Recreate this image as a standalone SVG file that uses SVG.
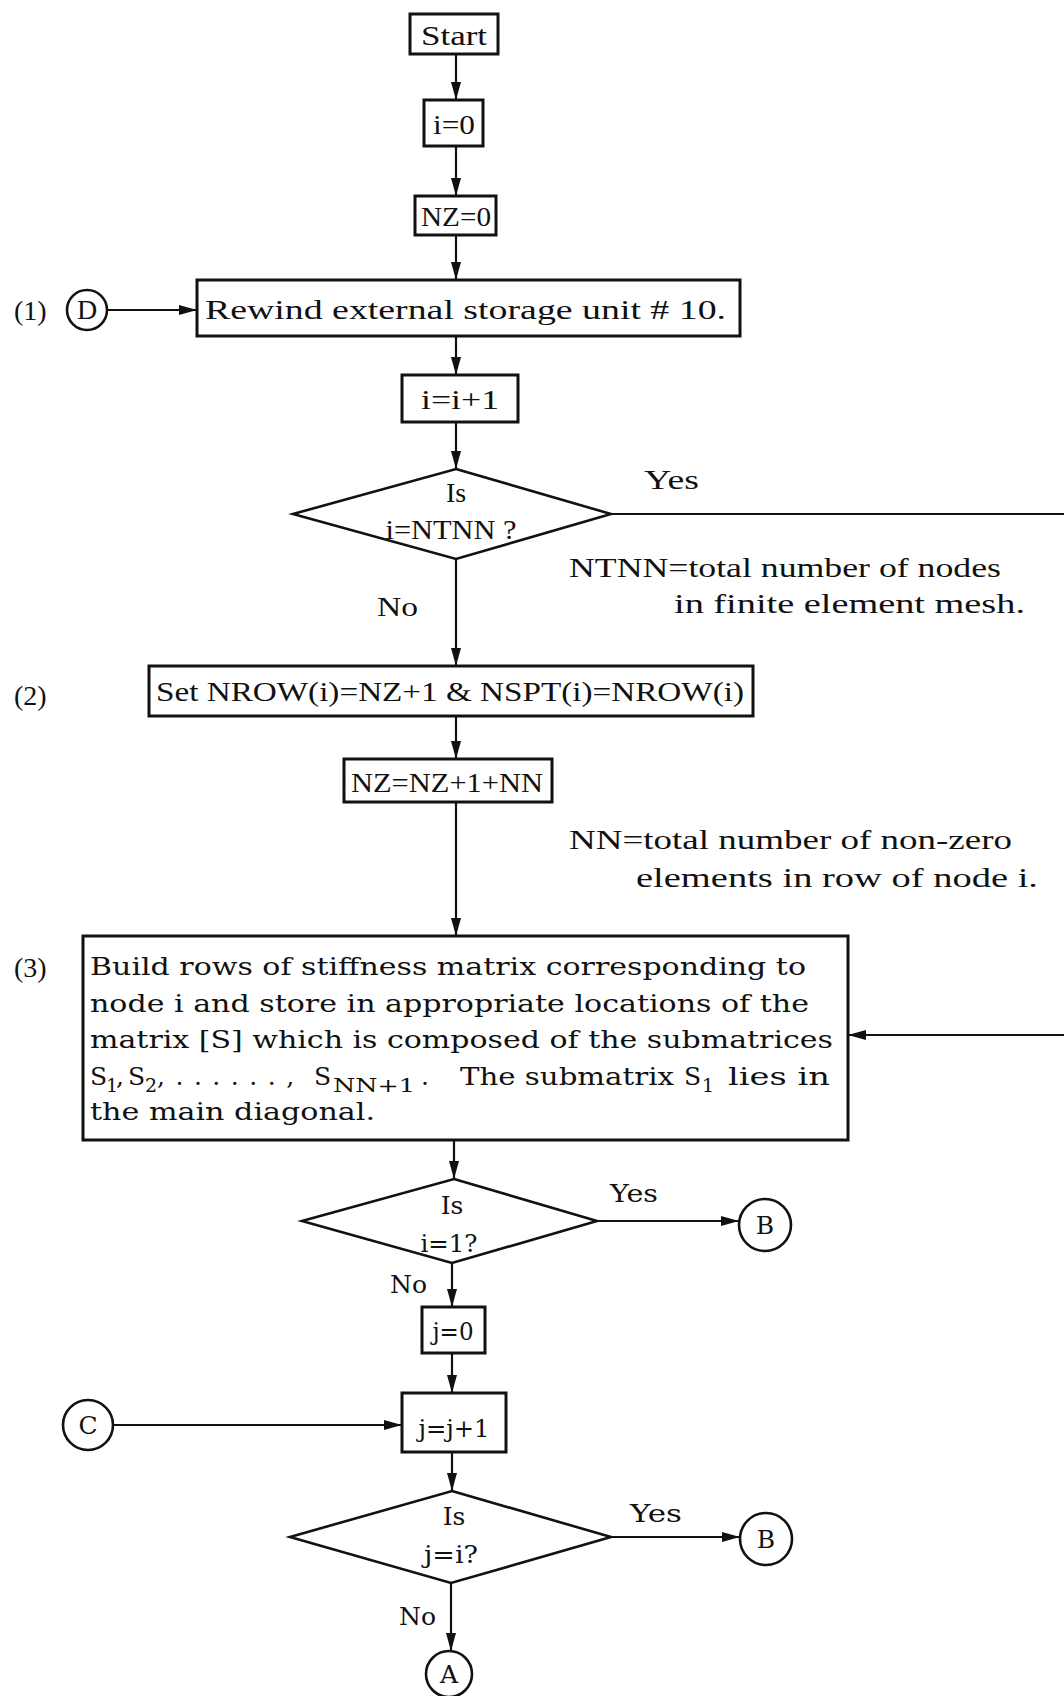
<svg xmlns="http://www.w3.org/2000/svg" width="1064" height="1696" viewBox="0 0 1064 1696">
<style>
.box{fill:none;stroke:#111;stroke-width:3}
.dia{fill:none;stroke:#111;stroke-width:2.6;stroke-linejoin:miter}
.circ{fill:none;stroke:#111;stroke-width:2.6}
.con{fill:none;stroke:#111;stroke-width:2.2}
.arr{marker-end:url(#ah)}
text{font-family:"Liberation Serif","DejaVu Serif",serif;fill:#111;font-size:28px}
.w{font-family:"DejaVu Serif","Liberation Serif",serif;font-size:25px}
.m{text-anchor:middle}
.sub{font-size:19px}
</style>
<defs>
<marker id="ah" markerUnits="userSpaceOnUse" markerWidth="18" markerHeight="10" refX="18" refY="5" orient="auto">
<path d="M0,0 L18,5 L0,10 z" fill="#111"/>
</marker>
</defs>
<rect width="1064" height="1696" fill="#fff"/>

<g id="connectors">
<line class="con arr" x1="456" y1="54" x2="456" y2="100"/>
<line class="con arr" x1="456" y1="146" x2="456" y2="196"/>
<line class="con arr" x1="456" y1="235" x2="456" y2="280"/>
<line class="con arr" x1="107" y1="310" x2="197" y2="310"/>
<line class="con arr" x1="456" y1="336" x2="456" y2="375"/>
<line class="con arr" x1="456" y1="422" x2="456" y2="469"/>
<line class="con" x1="611" y1="514" x2="1064" y2="514"/>
<line class="con arr" x1="456" y1="559" x2="456" y2="666"/>
<line class="con arr" x1="456" y1="716" x2="456" y2="759"/>
<line class="con arr" x1="456" y1="802" x2="456" y2="936"/>
<line class="con arr" x1="1064" y1="1035" x2="848" y2="1035"/>
<line class="con arr" x1="454" y1="1140" x2="454" y2="1179"/>
<line class="con arr" x1="597" y1="1221" x2="739" y2="1221"/>
<line class="con arr" x1="452" y1="1263" x2="452" y2="1307"/>
<line class="con arr" x1="452" y1="1353" x2="452" y2="1393"/>
<line class="con arr" x1="113" y1="1425" x2="402" y2="1425"/>
<line class="con arr" x1="452" y1="1452" x2="452" y2="1491"/>
<line class="con arr" x1="611" y1="1537" x2="740" y2="1537"/>
<line class="con arr" x1="451" y1="1583" x2="451" y2="1651"/>
</g>

<g id="start">
<rect class="box" x="410" y="14" width="88" height="40"/>
<text class="m" x="454" y="45" font-size="29" textLength="66" lengthAdjust="spacingAndGlyphs">Start</text>
</g>
<g id="i0">
<rect class="box" x="424" y="100" width="59" height="46"/>
<text class="m" x="454" y="134" textLength="42" lengthAdjust="spacingAndGlyphs">i=0</text>
</g>
<g id="nz0">
<rect class="box" x="415" y="196" width="81" height="39"/>
<text class="m" x="456" y="226" textLength="70" lengthAdjust="spacingAndGlyphs">NZ=0</text>
</g>
<g id="label1"><text x="14" y="320" font-size="26">(1)</text></g>
<g id="connD">
<circle class="circ" cx="87" cy="310" r="20"/>
<text class="m" x="87" y="319" font-size="25">D</text>
</g>
<g id="rewind">
<rect class="box" x="197" y="280" width="543" height="56"/>
<text x="205" y="319" font-size="29" textLength="521" lengthAdjust="spacingAndGlyphs">Rewind external storage unit # 10.</text>
</g>
<g id="iinc">
<rect class="box" x="402" y="375" width="116" height="47"/>
<text class="m" x="460" y="409" textLength="78" lengthAdjust="spacingAndGlyphs">i=i+1</text>
</g>
<g id="dec1">
<polygon class="dia" points="456,469 611,514 456,559 293,514"/>
<text class="m" x="456" y="502" font-size="29">Is</text>
<text class="m" x="451" y="539" textLength="131" lengthAdjust="spacingAndGlyphs">i=NTNN ?</text>
<text x="644" y="489" textLength="55" lengthAdjust="spacingAndGlyphs">Yes</text>
<text x="377" y="616" textLength="41" lengthAdjust="spacingAndGlyphs">No</text>
</g>
<g id="note1">
<text x="569" y="577" textLength="432" lengthAdjust="spacingAndGlyphs">NTNN=total number of nodes</text>
<text x="674" y="613" textLength="351" lengthAdjust="spacingAndGlyphs">in finite element mesh.</text>
</g>
<g id="label2"><text x="14" y="705" font-size="26">(2)</text></g>
<g id="setrow">
<rect class="box" x="149" y="666" width="604" height="50"/>
<text x="156" y="701" font-size="29" textLength="588" lengthAdjust="spacingAndGlyphs">Set NROW(i)=NZ+1 &amp; NSPT(i)=NROW(i)</text>
</g>
<g id="nzinc">
<rect class="box" x="344" y="759" width="208" height="43"/>
<text x="351" y="792" textLength="192" lengthAdjust="spacingAndGlyphs">NZ=NZ+1+NN</text>
</g>
<g id="note2">
<text x="569" y="849" textLength="443" lengthAdjust="spacingAndGlyphs">NN=total number of non-zero</text>
<text x="636" y="887" textLength="402" lengthAdjust="spacingAndGlyphs">elements in row of node i.</text>
</g>
<g id="label3"><text x="14" y="977" font-size="26">(3)</text></g>
<g id="build">
<rect class="box" x="83" y="936" width="765" height="204"/>
<text class="w" x="90" y="975" textLength="716" lengthAdjust="spacingAndGlyphs">Build rows of stiffness matrix corresponding to</text>
<text class="w" x="90" y="1012" textLength="719" lengthAdjust="spacingAndGlyphs">node i and store in appropriate locations of the</text>
<text class="w" x="90" y="1048" textLength="743" lengthAdjust="spacingAndGlyphs">matrix [S] which is composed of the submatrices</text>
<text class="w" x="90" y="1085">S</text>
<text class="w sub" x="106" y="1092">1</text>
<text class="w" x="116" y="1085">,</text>
<text class="w" x="128" y="1085">S</text>
<text class="w sub" x="145" y="1092">2</text>
<text class="w" x="157" y="1085" letter-spacing="10.5">,......,</text>
<text class="w" x="314" y="1085">S</text>
<text class="w sub" x="333" y="1092" textLength="82" lengthAdjust="spacingAndGlyphs">NN+1</text>
<text class="w" x="421" y="1085">.</text>
<text class="w" x="460" y="1085" textLength="214" lengthAdjust="spacingAndGlyphs">The submatrix</text>
<text class="w" x="684" y="1085">S</text>
<text class="w sub" x="702" y="1092">1</text>
<text class="w" x="728" y="1085" textLength="102" lengthAdjust="spacingAndGlyphs">lies in</text>
<text class="w" x="90" y="1120" textLength="285" lengthAdjust="spacingAndGlyphs">the main diagonal.</text>
</g>
<g id="dec2">
<polygon class="dia" points="454,1179 597,1221 452,1263 302,1221"/>
<text class="w m" x="452" y="1214" font-size="27">Is</text>
<text class="w m" x="449" y="1252" font-size="26" textLength="57" lengthAdjust="spacingAndGlyphs">i=1?</text>
<text class="w" x="610" y="1202" font-size="26" textLength="48" lengthAdjust="spacingAndGlyphs">Yes</text>
<text class="w" x="390" y="1293" font-size="26" textLength="37" lengthAdjust="spacingAndGlyphs">No</text>
</g>
<g id="connB1">
<circle class="circ" cx="765" cy="1225" r="26"/>
<text class="w m" x="765" y="1234">B</text>
</g>
<g id="j0">
<rect class="box" x="422" y="1307" width="63" height="46"/>
<text class="w m" x="453" y="1340" textLength="41" lengthAdjust="spacingAndGlyphs">j=0</text>
</g>
<g id="connC">
<circle class="circ" cx="88" cy="1425" r="25"/>
<text class="w m" x="88" y="1434">C</text>
</g>
<g id="jinc">
<rect class="box" x="402" y="1393" width="104" height="59"/>
<text class="w m" x="454" y="1437" font-size="26" textLength="71" lengthAdjust="spacingAndGlyphs">j=j+1</text>
</g>
<g id="dec3">
<polygon class="dia" points="452,1491 611,1537 451,1583 290,1537"/>
<text class="w m" x="454" y="1525" font-size="27">Is</text>
<text class="w m" x="451" y="1563" font-size="26" textLength="54" lengthAdjust="spacingAndGlyphs">j=i?</text>
<text class="w" x="630" y="1522" font-size="26" textLength="52" lengthAdjust="spacingAndGlyphs">Yes</text>
<text class="w" x="399" y="1625" font-size="26" textLength="37" lengthAdjust="spacingAndGlyphs">No</text>
</g>
<g id="connB2">
<circle class="circ" cx="766" cy="1539" r="26"/>
<text class="w m" x="766" y="1548">B</text>
</g>
<g id="connA">
<circle class="circ" cx="449" cy="1674" r="23"/>
<text class="w m" x="449" y="1683">A</text>
</g>
</svg>
